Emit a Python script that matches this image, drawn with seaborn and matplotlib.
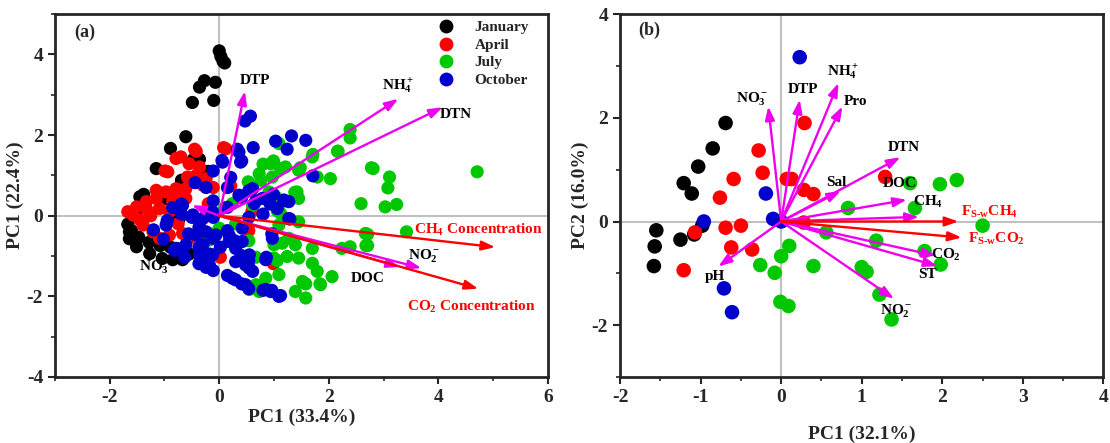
import matplotlib
matplotlib.use('Agg')
import matplotlib.pyplot as plt
from matplotlib.ticker import MultipleLocator
import pandas as pd
import seaborn as sns

sns.set_style('ticks')
plt.rcParams['font.family'] = ['Liberation Serif', 'DejaVu Serif']
plt.rcParams['font.weight'] = 'bold'
plt.rcParams['axes.labelweight'] = 'bold'
plt.rcParams['axes.unicode_minus'] = False
plt.rcParams['mathtext.fontset'] = 'custom'
plt.rcParams['mathtext.rm'] = 'Liberation Serif:bold'
plt.rcParams['mathtext.it'] = 'Liberation Serif:bold'
plt.rcParams['mathtext.bf'] = 'Liberation Serif:bold'

months = ['January', 'April', 'July', 'October']
palette = {'January': '#000000', 'April': '#ff0000', 'July': '#00c800', 'October': '#0000cc'}

# ---- panel (a) scores ----
jan_a = [(0.00, 4.09), (0.03, 3.95), (0.07, 3.83), (0.10, 3.79), (-0.07, 3.31), (-0.27, 3.35),
         (-0.36, 3.19), (-0.10, 2.86), (-0.49, 2.81), (-0.61, 1.96), (-0.89, 1.67), (-1.15, 1.17),
         (-1.38, 0.53), (-0.69, 0.88), (-0.47, 1.40), (-0.96, 0.42), (-1.45, 0.47), (-1.64, -0.57),
         (-1.51, -0.77), (-1.27, -0.94), (-1.04, -1.06), (-0.85, -1.09), (-0.67, -1.09), (-0.73, -0.07),
         (-1.64, -0.40), (-1.60, -0.37), (-1.47, -0.53), (-1.28, -0.66), (-1.08, -0.74), (-0.89, -0.78),
         (-0.76, -0.82), (-1.67, -0.21), (-1.54, 0.12), (-1.44, 0.21), (-0.36, 1.40), (-0.20, 1.10),
         (-0.55, -0.95)]
apr_a = [(-0.42, 1.60), (0.12, 1.66), (-0.70, 1.46), (-0.55, 1.29), (-0.36, 1.21), (-0.79, 1.42),
         (-0.94, 1.09), (-0.58, 0.96), (-0.42, 1.00), (-0.24, 0.92), (-0.30, 0.76), (-0.79, 0.67),
         (-0.61, 0.67), (-0.97, 0.59), (-1.15, 0.63), (-1.15, 0.43), (-1.33, 0.35), (-1.51, 0.22),
         (-1.67, 0.10), (-0.82, 0.39), (-0.67, 0.51), (-1.09, 0.18), (-0.91, 0.10), (-1.58, 0.02),
         (-1.39, -0.23), (-1.21, -0.40), (-1.09, -0.56), (-0.91, -0.48), (-0.67, -0.44), (-0.55, -0.56),
         (-0.61, 0.43), (-0.85, 0.35), (-0.36, -0.23), (-1.33, 0.18), (-0.45, 1.65), (0.08, 1.69),
         (-0.99, 1.11), (0.99, -1.19), (0.54, -0.37), (0.02, -1.03), (0.60, 0.12), (-0.24, -0.45),
         (-0.11, 0.70), (0.21, 0.74), (-1.45, -0.10), (-1.25, 0.00), (-0.75, -0.20), (-0.20, 0.30)]
jul_a = [(2.39, 2.14), (2.39, 1.93), (2.17, 1.60), (2.03, 0.92), (2.81, 1.17), (3.11, 0.96),
         (3.08, 0.69), (2.59, 0.30), (3.03, 0.22), (3.24, 0.28), (4.71, 1.09), (2.67, -0.44),
         (2.71, -0.46), (3.42, -0.40), (2.71, -0.74), (2.24, -0.81), (2.39, -0.77), (1.70, 1.46),
         (1.09, 1.79), (0.94, 1.29), (1.12, 1.17), (1.21, 1.21), (0.73, 1.04), (0.76, 0.88),
         (0.97, 0.96), (1.45, 1.13), (1.79, 0.96), (0.53, 0.84), (1.42, 0.59), (1.45, 0.43),
         (0.91, 0.59), (1.03, 0.47), (0.24, 0.30), (0.61, 0.26), (1.12, 0.06), (1.39, -0.72),
         (1.70, -0.81), (1.15, -0.68), (1.45, -1.05), (1.24, -1.01), (1.00, -1.05), (1.70, -1.18),
         (1.79, -1.38), (2.06, -1.51), (1.85, -1.71), (1.52, -1.63), (1.58, -2.04), (1.39, -1.88),
         (1.09, -1.46), (0.85, -1.55), (0.67, -1.71), (0.73, -1.88), (0.55, -1.83), (1.00, -0.72),
         (1.27, -0.56), (1.45, -0.15), (1.09, -0.23), (0.00, -0.31), (-0.18, -0.60), (0.80, 1.28),
         (0.99, 1.36), (1.48, 1.19), (1.71, 1.52), (2.16, 1.60), (2.78, 1.19), (1.38, 0.58),
         (1.06, 0.12), (1.06, -1.11), (0.54, -0.62), (0.67, -1.03), (1.84, -1.69), (1.58, -1.69),
         (-0.11, -0.45), (2.68, -0.74), (0.30, -0.20), (0.10, 0.20)]
oct_a = [(0.47, 2.35), (0.57, 2.47), (0.62, 1.69), (0.33, 1.65), (0.41, 1.36), (1.03, 1.85),
         (1.32, 1.98), (1.58, 1.87), (1.24, 1.65), (1.71, 0.99), (0.05, 1.37), (0.21, 0.95),
         (0.99, 0.53), (1.19, 0.37), (1.29, -0.08), (0.96, -0.45), (0.86, -1.03), (0.80, -1.85),
         (0.96, -1.85), (1.12, -1.98), (0.54, -1.81), (0.41, -1.69), (0.15, -1.48), (0.54, -1.11),
         (0.54, -1.28), (0.41, -0.99), (-0.24, -1.28), (-0.11, -1.36), (-0.37, -1.19), (-0.63, -1.03),
         (-0.82, -0.86), (-1.02, -0.58), (-0.95, -0.12), (-0.69, 0.04), (-0.44, 0.82), (-0.69, 0.29),
         (-0.11, 1.11), (-0.24, 0.70), (0.15, 0.70), (0.41, 0.45), (0.54, 0.62), (0.67, 0.37),
         (0.15, 0.21), (-0.11, -0.04), (-0.37, -0.29), (-0.50, -0.04), (0.15, -0.37), (0.28, -0.62),
         (0.02, -0.78), (-0.18, -0.95), (-0.37, -0.78), (-0.56, -0.45), (0.54, -0.04), (0.80, 0.04),
         (0.93, 0.29), (-0.11, 0.37), (0.36, 1.58), (0.39, 1.33), (0.06, 1.33), (1.06, 0.18),
         (1.27, -0.07), (1.18, 0.39), (0.79, 0.43), (0.61, 0.67), (0.36, 0.51), (-0.30, -0.07),
         (-0.12, -0.56), (0.18, -0.48), (0.42, -0.31), (0.30, -0.81), (0.55, -0.97), (0.48, -1.22),
         (0.85, -1.09), (0.61, -1.38), (0.30, -1.59), (0.48, -1.71), (0.85, -1.83), (1.09, -2.00),
         (0.94, -1.88), (-0.24, -1.22), (-0.12, -0.97), (-0.30, -0.72), (1.27, 0.35), (0.97, -0.56),
         (0.64, 0.30), (-0.67, 0.26), (-0.48, 0.02), (-0.97, -0.23), (-0.61, -0.72), (-0.36, -0.97),
         (-0.18, -1.22), (-0.24, -0.40), (-0.12, 0.10), (-0.06, -0.48), (0.18, -0.64), (0.42, -0.64),
         (0.30, -1.14), (0.24, -1.55), (0.55, -1.30), (-0.79, -0.81), (-0.42, -0.48), (-1.20, -0.35),
         (-0.85, 0.20)]

# ---- panel (a) loadings ----
a_vars = ['DTP', 'NH$_4^+$', 'DTN', 'NO$_3^-$', 'DOC', 'NO$_2^-$']
a_load = [(0.47, 3.09), (3.27, 2.90), (4.08, 2.69), (-0.50, 0.26), (3.30, -1.27), (3.69, -1.30)]
a_resp = ['CH$_4$ Concentration', 'CO$_2$ Concentration']
a_resp_load = [(5.04, -0.78), (4.73, -1.81)]

# ---- panel (b) scores ----
jan_b = [(-0.69, 1.90), (-0.85, 1.41), (-1.03, 1.06), (-1.21, 0.74), (-1.11, 0.54), (-1.55, -0.17),
         (-1.57, -0.48), (-1.58, -0.86), (-1.25, -0.35), (-0.98, -0.08), (-1.08, -0.25)]
apr_b = [(0.29, 1.90), (-0.28, 1.37), (-0.23, 0.94), (-0.59, 0.82), (-0.76, 0.46), (0.07, 0.82),
         (0.13, 0.82), (0.28, 0.61), (0.40, 0.53), (1.29, 0.86), (-0.69, -0.12), (-0.50, -0.08),
         (-0.62, -0.50), (-0.36, -0.54), (-1.07, -0.21), (-1.21, -0.94), (0.28, -0.02)]
jul_b = [(1.60, 0.74), (1.97, 0.72), (2.18, 0.80), (0.83, 0.26), (1.66, 0.26), (2.50, -0.08),
         (0.56, -0.21), (1.18, -0.37), (1.78, -0.57), (1.98, -0.83), (0.10, -0.47), (0.00, -0.67),
         (-0.26, -0.84), (-0.08, -0.99), (0.40, -0.86), (1.00, -0.88), (1.06, -0.97), (1.22, -1.41),
         (1.37, -1.89), (-0.01, -1.55), (0.09, -1.63)]
oct_b = [(0.23, 3.17), (-0.19, 0.54), (-0.10, 0.05), (0.00, 0.00), (-0.96, 0.00), (-0.71, -1.29),
         (-0.61, -1.75)]

# ---- panel (b) loadings ----
b_vars = ['NO$_3^-$', 'DTP', 'NH$_4^+$', 'Pro', 'DTN', 'Sal', 'DOC', 'CH$_4$',
          'CO$_2$', 'ST', 'NO$_2^-$', 'pH']
b_load = [(-0.16, 2.22), (0.23, 2.35), (0.71, 2.67), (0.76, 2.22), (1.48, 1.24), (0.74, 0.59),
          (1.56, 0.42), (1.71, 0.09), (1.92, -0.66), (1.94, -0.86), (1.40, -1.49), (-0.78, -0.87)]
b_resp = [r'F$_{S\text{-}w}$CH$_4$', r'F$_{S\text{-}w}$CO$_2$']
b_resp_load = [(2.20, 0.00), (2.24, -0.31)]

# label placement (layout only)
a_var_txt = [(0.66, 3.36), (3.27, 3.21), (4.32, 2.51), (-1.17, -1.28), (2.71, -1.56), (3.75, -1.01)]
a_resp_txt = [(4.73, -0.35), (4.60, -2.26)]
b_var_txt = [(-0.36, 2.35), (0.27, 2.54), (0.77, 2.88), (0.92, 2.32), (1.52, 1.43), (0.68, 0.75),
             (1.47, 0.74), (1.82, 0.37), (2.05, -0.65), (1.81, -1.02), (1.43, -1.73), (-0.82, -1.06)]
b_resp_txt = [(2.59, 0.19), (2.67, -0.34)]


def scores_df(groups):
    rows = []
    for name, pts in zip(months, groups):
        for x, y in pts:
            rows.append((name, x, y))
    return pd.DataFrame(rows, columns=['month', 'pc1', 'pc2'])


def arrows(ax, load, color):
    for x, y in load:
        ax.annotate('', xy=(x, y), xytext=(0, 0),
                    arrowprops=dict(arrowstyle='-|>,head_length=0.8,head_width=0.28',
                                    color=color, lw=1.7, shrinkA=0, shrinkB=0), zorder=5)


def style_axes(ax):
    for sp in ax.spines.values():
        sp.set_linewidth(2)
        sp.set_visible(True)
    ax.tick_params(which='major', direction='out', length=5, width=1.5, labelsize=14)
    ax.tick_params(which='minor', direction='out', length=3, width=1.2)
    ax.axhline(0, color='#b4b4b4', lw=1.2, zorder=0)
    ax.axvline(0, color='#b4b4b4', lw=1.2, zorder=0)


fig = plt.figure(figsize=(11.1, 4.43), dpi=100)
ax1 = fig.add_axes([0.0495, 0.149, 0.444, 0.819])
ax2 = fig.add_axes([0.5586, 0.149, 0.4355, 0.819])

# (a)
df_a = scores_df([jan_a, apr_a, jul_a, oct_a])
style_axes(ax1)
sns.scatterplot(data=df_a, x='pc1', y='pc2', hue='month', hue_order=months, palette=palette,
                s=90, edgecolor='none', linewidth=0, ax=ax1, zorder=3)
arrows(ax1, a_load, '#ee00ee')
arrows(ax1, a_resp_load, '#ff0000')
for lab, (x, y) in zip(a_vars, a_var_txt):
    ax1.text(x, y, lab, ha='center', va='center', fontsize=11, color='black', zorder=6)
for lab, (x, y) in zip(a_resp, a_resp_txt):
    ax1.text(x, y, lab, ha='center', va='center', fontsize=11, color='#ff0000', zorder=6)
ax1.set_xlim(-3, 6)
ax1.set_ylim(-4, 5)
ax1.xaxis.set_major_locator(MultipleLocator(2))
ax1.xaxis.set_minor_locator(MultipleLocator(1))
ax1.yaxis.set_major_locator(MultipleLocator(2))
ax1.yaxis.set_minor_locator(MultipleLocator(1))
ax1.set_xlabel('PC1 (33.4%)', fontsize=14, labelpad=2)
ax1.set_ylabel('PC1 (22.4%)', fontsize=14, labelpad=2)
ax1.text(0.06, 0.95, '(a)', transform=ax1.transAxes, fontsize=13, ha='center', va='center')
h, l = ax1.get_legend_handles_labels()
ax1.legend(h, l, loc='upper right', bbox_to_anchor=(0.99, 1.02), frameon=False, fontsize=11,
           markerscale=1.05, handletextpad=0.9, labelspacing=0.25)

# (b)
df_b = scores_df([jan_b, apr_b, jul_b, oct_b])
style_axes(ax2)
sns.scatterplot(data=df_b, x='pc1', y='pc2', hue='month', hue_order=months, palette=palette,
                s=110, edgecolor='none', linewidth=0, ax=ax2, zorder=3, legend=False)
arrows(ax2, b_load, '#ee00ee')
arrows(ax2, b_resp_load, '#ff0000')
for lab, (x, y) in zip(b_vars, b_var_txt):
    ax2.text(x, y, lab, ha='center', va='center', fontsize=11, color='black', zorder=6)
for lab, (x, y) in zip(b_resp, b_resp_txt):
    ax2.text(x, y, lab, ha='center', va='center', fontsize=11, color='#ff0000', zorder=6)
ax2.set_xlim(-2, 4)
ax2.set_ylim(-3, 4)
ax2.xaxis.set_major_locator(MultipleLocator(1))
ax2.xaxis.set_minor_locator(MultipleLocator(0.5))
ax2.yaxis.set_major_locator(MultipleLocator(2))
ax2.yaxis.set_minor_locator(MultipleLocator(1))
ax2.set_xlabel('PC1 (32.1%)', fontsize=14, labelpad=14)
ax2.set_ylabel('PC2 (16.0%)', fontsize=14, labelpad=2)
ax2.text(0.06, 0.955, '(b)', transform=ax2.transAxes, fontsize=13, ha='center', va='center')

fig.savefig('out.png', dpi=100)
